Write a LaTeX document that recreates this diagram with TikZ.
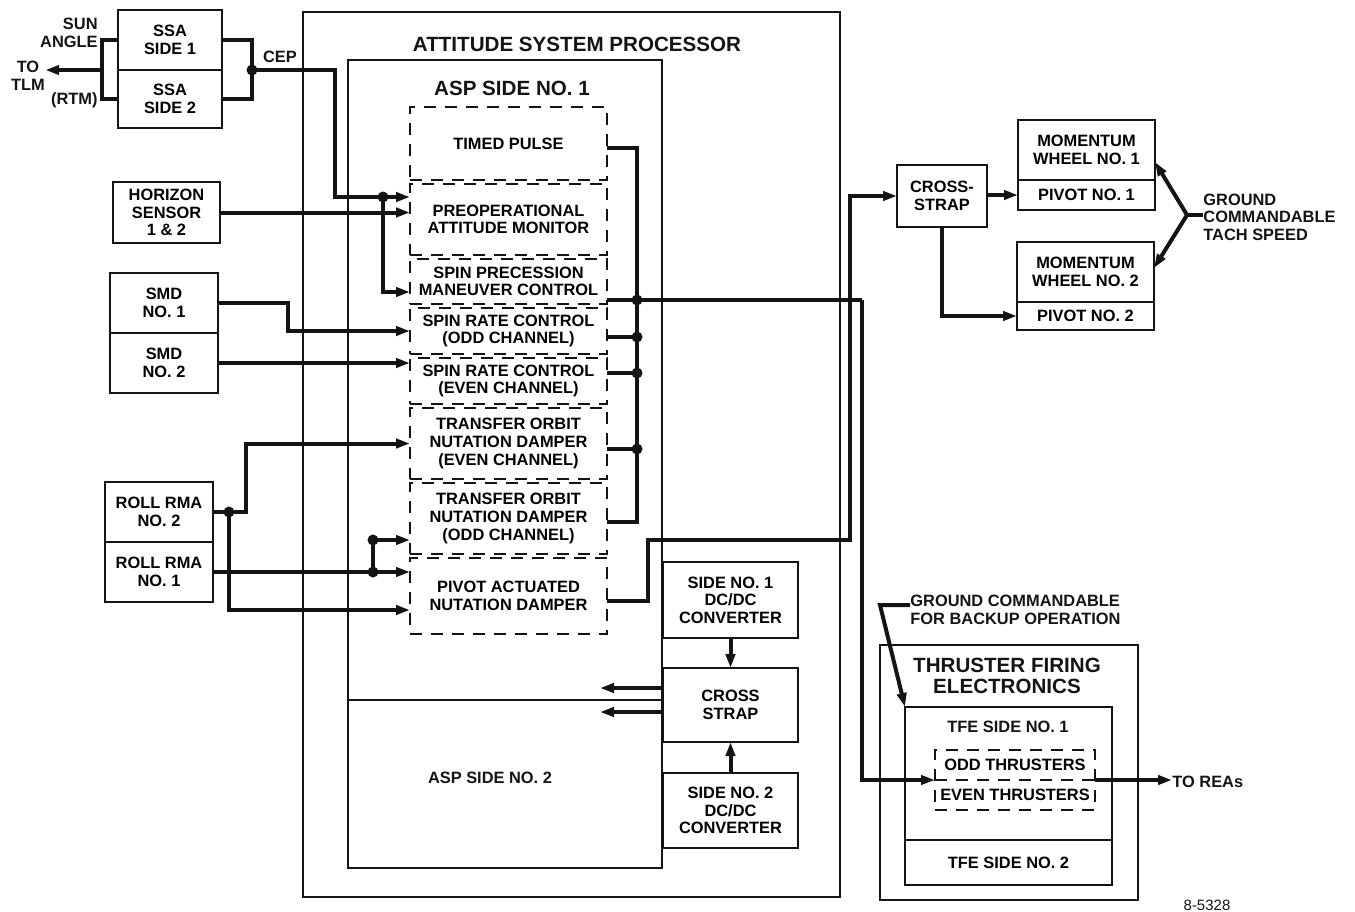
\documentclass[tikz,border=0pt]{standalone}
\usepackage{fontspec}
\setsansfont{Liberation Sans}
\usepackage{tikz}
\usetikzlibrary{arrows.meta,positioning,calc}
\definecolor{ink}{RGB}{20,20,20}
\newcommand{\lblfont}{\fontsize{8.2}{8.8}\selectfont\sffamily\bfseries}
\newcommand{\ttlfont}{\fontsize{10.3}{10.8}\selectfont\sffamily\bfseries}
\tikzset{
  blk/.style={draw=ink, line width=1.1pt, inner sep=0pt, outer sep=0pt, align=center},
  fn/.style={draw=ink, line width=1pt, dash pattern=on 6pt off 4.5pt, inner sep=0pt,
             outer sep=0pt, align=center, minimum width=98.5pt},
  frame/.style={draw=ink, line width=0.8pt, inner sep=0pt, outer sep=0pt},
  wire/.style={draw=ink, line width=2pt},
  arr/.style={-{Triangle[length=7pt,width=4.6pt]}},
  dot/.style={circle, fill=ink, inner sep=0pt, minimum size=5.5pt},
  txt/.style={inner sep=0pt, align=center, text=ink}
}
\begin{document}
\begin{tikzpicture}[x=0.5pt, y=-0.5pt, every node/.style={font=\lblfont}]
  \useasboundingbox (0,0) rectangle (1355,911);

  % processor frames
  \node[frame, minimum width=268.5pt, minimum height=442.5pt] (asp) at (571.5,454.5) {};
  \node[txt, font=\ttlfont] (asptitle) at (577,44) {ATTITUDE SYSTEM PROCESSOR};
  \node[frame, minimum width=157pt, minimum height=320pt] (side1) at (505,380) {};
  \node[txt, font=\ttlfont] (side1lbl) at (512,88) {ASP SIDE NO. 1};
  \node[frame, minimum width=157pt, minimum height=84pt, below=0pt of side1] (side2) {};
  \node[txt] (side2lbl) at (490,778) {ASP SIDE NO. 2};

  % dashed function blocks
  \node[fn, minimum height=36.5pt] (tp) at (508.5,143.5) {TIMED PULSE};
  \node[fn, minimum height=35.5pt, below=2pt of tp] (pam) {PREOPERATIONAL\\ATTITUDE MONITOR};
  \node[fn, minimum height=22.5pt, below=2pt of pam] (spc) {SPIN PRECESSION\\MANEUVER CONTROL};
  \node[fn, minimum height=23pt, below=2pt of spc] (sro) {SPIN RATE CONTROL\\(ODD CHANNEL)};
  \node[fn, minimum height=23pt, below=2pt of sro] (sre) {SPIN RATE CONTROL\\(EVEN CHANNEL)};
  \node[fn, minimum height=35.5pt, below=2pt of sre] (tone) {TRANSFER ORBIT\\NUTATION DAMPER\\(EVEN CHANNEL)};
  \node[fn, minimum height=35.5pt, below=2pt of tone] (tono) {TRANSFER ORBIT\\NUTATION DAMPER\\(ODD CHANNEL)};
  \node[fn, minimum height=38pt, below=2pt of tono] (pand) {PIVOT ACTUATED\\NUTATION DAMPER};

  % power supplies
  \node[blk, minimum width=67.5pt, minimum height=38pt] (dc1) at (730.5,600) {SIDE NO. 1\\DC/DC\\CONVERTER};
  \node[blk, minimum width=67.5pt, minimum height=37pt] (cs) at (730.5,705) {CROSS\\STRAP};
  \node[blk, minimum width=67.5pt, minimum height=37.5pt] (dc2) at (730.5,810.5) {SIDE NO. 2\\DC/DC\\CONVERTER};

  % sensors
  \node[blk, minimum width=52pt, minimum height=30pt] (ssa1) at (170,40) {SSA\\SIDE 1};
  \node[blk, minimum width=52pt, minimum height=29pt, below=0pt of ssa1] (ssa2) {SSA\\SIDE 2};
  \node[blk, minimum width=53.5pt, minimum height=30.5pt] (hor) at (166.5,212.5) {HORIZON\\SENSOR\\1 \& 2};
  \node[blk, minimum width=54pt, minimum height=30pt] (smd1) at (164,303) {SMD\\NO. 1};
  \node[blk, minimum width=54pt, minimum height=30pt, below=0pt of smd1] (smd2) {SMD\\NO. 2};
  \node[blk, minimum width=54pt, minimum height=30pt] (rma2) at (159,512) {ROLL RMA\\NO. 2};
  \node[blk, minimum width=54pt, minimum height=30pt, below=0pt of rma2] (rma1) {ROLL RMA\\NO. 1};

  \node[txt, align=right, anchor=east] (sun) at (98,33) {SUN\\ANGLE};
  \node[txt, align=right, anchor=east] (rtm) at (98,100) {(RTM)};
  \node[txt] (totlm) at (28,76) {TO\\TLM};
  \node[txt] (ceplbl) at (280,57) {CEP};

  % wheels
  \node[blk, minimum width=45pt, minimum height=31pt] (xs) at (942,196) {CROSS-\\STRAP};
  \node[blk, minimum width=68.5pt, minimum height=30pt] (mw1) at (1086.5,150) {MOMENTUM\\WHEEL NO. 1};
  \node[blk, minimum width=68.5pt, minimum height=15pt, below=0pt of mw1] (pv1) {PIVOT NO. 1};
  \node[blk, minimum width=68.5pt, minimum height=30pt] (mw2) at (1085.5,272) {MOMENTUM\\WHEEL NO. 2};
  \node[blk, minimum width=68.5pt, minimum height=14pt, below=0pt of mw2] (pv2) {PIVOT NO. 2};
  \node[txt, align=left, anchor=west] (tach) at (1203,217) {GROUND\\COMMANDABLE\\TACH SPEED};

  % thruster electronics
  \node[frame, line width=1pt, minimum width=129pt, minimum height=127.5pt] (tfe) at (1009,772.5) {};
  \node[txt, font=\ttlfont] (tfetitle) at (1007,676) {THRUSTER FIRING\\ELECTRONICS};
  \node[blk, minimum width=103.5pt, minimum height=66.5pt] (tfe1) at (1008.5,773.5) {};
  \node[txt] (tfe1lbl) at (1008,727) {TFE SIDE NO. 1};
  \node[blk, minimum width=103.5pt, minimum height=22.5pt, below=0pt of tfe1] (tfe2) {TFE SIDE NO. 2};
  \node[fn, minimum width=80pt, minimum height=30pt] (thr) at (1015,780) {ODD THRUSTERS\\[6.2pt]EVEN THRUSTERS};
  \draw[ink, line width=1pt, dash pattern=on 6pt off 4.5pt] (thr.west) -- (thr.east);
  \node[txt, anchor=west] (toreas) at (1172,782) {TO REAs};
  \node[txt, align=left, anchor=west] (backup) at (910,610) {GROUND COMMANDABLE\\FOR BACKUP OPERATION};
  \node[txt, font=\fontsize{7.5}{8}\selectfont\sffamily] (dwgno) at (1207,905) {8-5328};

  % junctions
  \coordinate (tlmj) at (102,70);
  \node[dot] (cepj) at (252,70) {};
  \node[dot] (pamj) at (383,197) {};
  \node[dot] (rmaj) at (229,512) {};
  \node[dot] (pivj) at (373,572) {};
  \node[dot] (pivk) at (373,540) {};
  \node[dot] (bus1) at (637,300) {};
  \node[dot] (bus2) at (637,337) {};
  \node[dot] (bus3) at (637,373) {};
  \node[dot] (bus4) at (637,449) {};
  \coordinate (busb) at (637,522);
  \coordinate (pvup) at (850,540);
  \coordinate (spdn) at (862,300);
  \coordinate (gj) at (1187,215);
  \coordinate (csa) at (600,688);
  \coordinate (csb) at (600,712);

  % sun sensor wiring
  \draw[wire] (ssa1.west) -| (tlmj) |- (ssa2.west);
  \draw[wire, arr] (tlmj) -- (totlm.east |- tlmj);
  \draw[wire] (ssa1.east) -| (cepj.center) |- (ssa2.east);
  \draw[wire] (cepj.center) -- ++(83,0) |- (pamj.center);
  \draw[wire, arr] (pamj.center) -- (pam.west |- pamj);
  \draw[wire, arr] (pamj.center) |- ([yshift=-5.25pt]spc.west);
  \draw[wire, arr] (hor.east) -- (pam.west |- hor.east);
  \draw[wire, arr] (smd1.east) -- ++(70,0) |- (sro.west);
  \draw[wire, arr] (smd2.east) -- (sre.west |- smd2.east);
  \draw[wire] (rma2.east) -- (rmaj.center);
  \draw[wire, arr] (rmaj.center) -- ++(17,0) |- (tone.west);
  \draw[wire, arr] (rmaj.center) |- ([yshift=-7pt]pand.west);
  \draw[wire] (rma1.east |- pivj) -- (pivj.center) -- (pivk.center);
  \draw[wire, arr] (pivj.center) -- (pand.west |- pivj);
  \draw[wire, arr] (pivk.center) -- (tono.west |- pivk);

  % output bus
  \draw[wire] ([yshift=-2.25pt]tp.east) -| (busb) -- (tono.east |- busb);
  \draw[wire] (spc.east |- bus1) -- (bus1.center);
  \draw[wire] (sro.east |- bus2) -- (bus2.center);
  \draw[wire] (sre.east |- bus3) -- (bus3.center);
  \draw[wire] (tone.east |- bus4) -- (bus4.center);
  \draw[wire] (bus1.center) -- (spdn);
  \draw[wire, arr] (spdn) |- (thr.west);
  \draw[wire, arr] ([yshift=-2.5pt]pand.east) -- ++(41,0) |- (pvup) |- (xs.west);

  % power
  \draw[wire, arr] (dc1.south) -- (cs.north);
  \draw[wire, arr] (dc2.north) -- (cs.south);
  \draw[wire, arr] (cs.west |- csa) -- (csa);
  \draw[wire, arr] (cs.west |- csb) -- (csb);

  % wheels and thrusters
  \draw[wire, arr] (xs.east |- pv1.west) -- (pv1.west);
  \draw[wire, arr] (xs.south) |- (pv2.west);
  \draw[wire] (gj) -- (tach.west |- gj);
  \draw[wire, arr] (gj) -- ([yshift=-6pt]mw1.east);
  \draw[wire, arr] (gj) -- ([yshift=2pt]mw2.east);
  \draw[wire, arr] (thr.east) -- (toreas.west |- thr.east);
  \draw[wire, arr] ([yshift=2.5pt]backup.west) -- ++(-30,0) -- (tfe1.north west);
\end{tikzpicture}
\end{document}
